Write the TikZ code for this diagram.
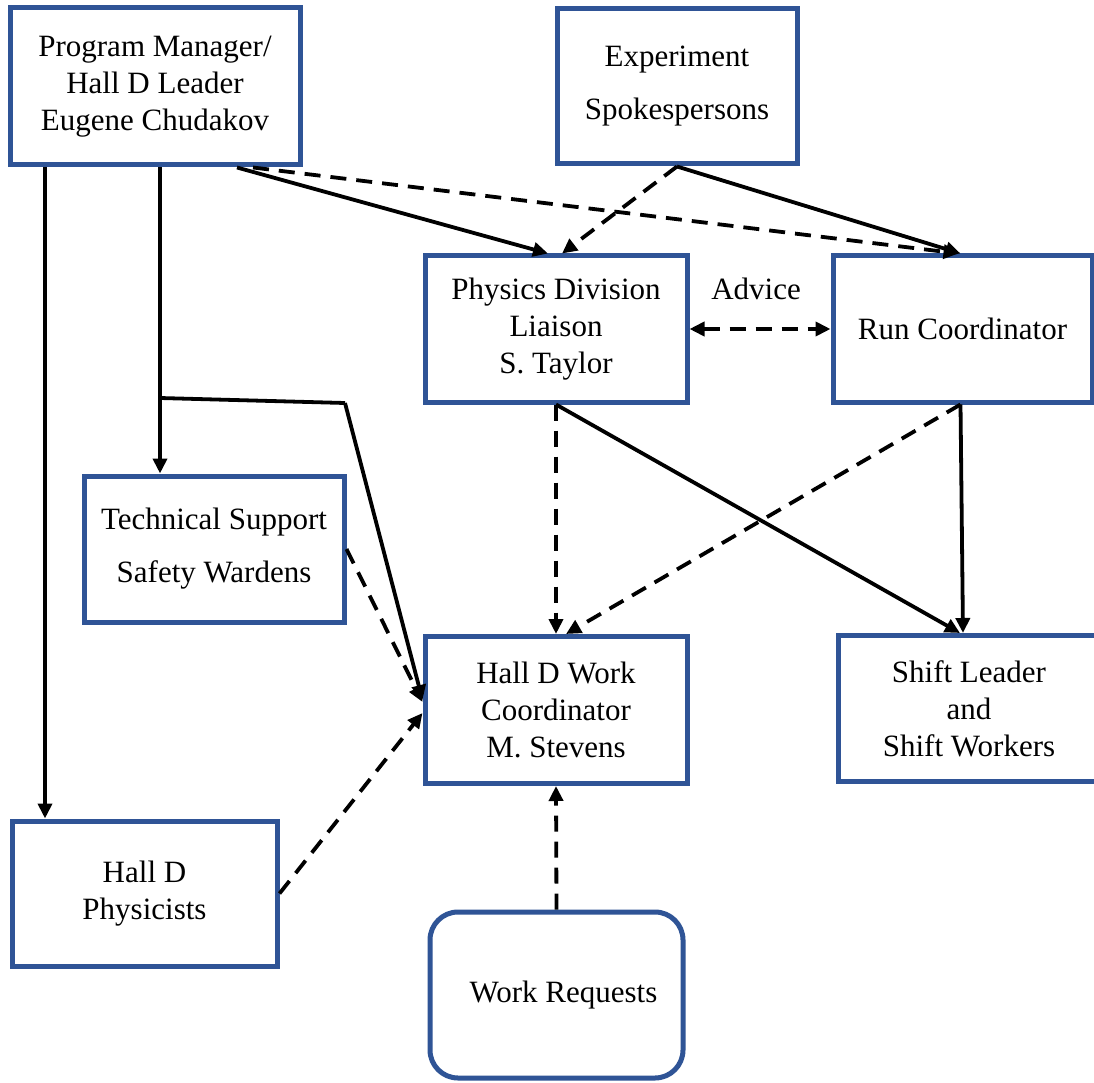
\documentclass[tikz,border=0pt]{standalone}
\usepackage{fontspec}
\setmainfont{Liberation Serif}
\newfontfamily\diagfont{Liberation Serif}
\usetikzlibrary{arrows.meta}
\definecolor{boxblue}{RGB}{47,84,150}
\begin{document}
\begin{tikzpicture}[x=1pt,y=-1pt,
  box/.style={draw=boxblue, line width=5pt, fill=white, inner sep=0pt, align=center,
    font=\diagfont\fontsize{31}{37}\selectfont},
  conn/.style={line width=3.8pt, draw=black},
  dsh/.style={conn, dash pattern=on 16pt off 10pt},
  tip/.style={-{Triangle[length=15pt,width=14pt]}},
  dtip/.style={{Triangle[length=15pt,width=14pt]}-{Triangle[length=15pt,width=14pt]}},
  lbl/.style={font=\diagfont\fontsize{31}{37}\selectfont, inner sep=0pt}]
\useasboundingbox (0,0) rectangle (1094,1083);
\fill[white] (0,0) rectangle (1094,1083);

% boxes
\node[box, minimum width=290pt, minimum height=157pt] (pm) at (155,86.5)
  {Program Manager/\\Hall D Leader\\Eugene Chudakov};
\node[box, minimum width=240pt, minimum height=155pt] (exp) at (677,86.5)
  {Experiment\\[16pt]Spokespersons};
\node[box, minimum width=262pt, minimum height=146pt] (phys) at (556,329)
  {Physics Division\\Liaison\\S. Taylor};
\node[box, minimum width=259pt, minimum height=146pt] (run) at (962.5,329)
  {Run Coordinator};
\node[box, minimum width=260pt, minimum height=146pt] (ts) at (214,549)
  {Technical Support\\[16pt]Safety Wardens};
\node[box, minimum width=262pt, minimum height=147pt] (hwc) at (556,710)
  {Hall D Work\\Coordinator\\M. Stevens};
\node[box, minimum width=262pt, minimum height=146pt] (shift) at (969,708.5)
  {Shift Leader\\and\\Shift Workers};
\node[box, minimum width=265pt, minimum height=145pt] (hdp) at (144.5,893.5)
  {Hall D\\Physicists};
\node[box, rounded corners=28pt, minimum width=253pt, minimum height=166pt] (wr) at (556.5,995)
  {\hspace*{14pt}Work Requests};

\node[lbl] (adv) at (756,289) {Advice};

% branch coordinates
\coordinate (br1) at (160,398);
\coordinate (br2) at (345,403);

% connectors from Program Manager
\draw[conn,tip] ([xshift=-110pt]pm.south) -- ([xshift=-110pt]pm.south |- hdp.north);
\draw[conn,tip] ([xshift=5pt]pm.south) -- ([xshift=5pt]pm.south |- ts.north);
\draw[conn] (br1) -- (br2);
\draw[conn,tip] (br2) -- ([yshift=10pt]hwc.west);
\draw[conn,tip] ([xshift=82pt]pm.south) -- ([xshift=-8pt]phys.north);
\draw[dsh,tip] ([xshift=98pt]pm.south) -- ([xshift=-4pt]run.north);

% from Experiment Spokespersons
\draw[dsh,tip] (exp.south) -- ([xshift=6pt]phys.north);
\draw[conn,tip] (exp.south) -- ([xshift=-2pt]run.north);

% Advice
\draw[dsh,dtip] (phys.east) -- (run.west);

% from Physics Division
\draw[dsh,tip] (phys.south) -- (hwc.north);
\draw[conn,tip] (phys.south) -- ([xshift=-9pt]shift.north);

% from Run Coordinator
\draw[dsh,tip] ([xshift=-2pt]run.south) -- ([xshift=10pt]hwc.north);
\draw[conn,tip] ([xshift=-2pt]run.south) -- ([xshift=-6pt]shift.north);

% into Work Coordinator
\draw[dsh,tip] (ts.east) -- ([yshift=8pt]hwc.west);
\draw[dsh,tip] (hdp.east) -- ([yshift=-3pt]hwc.west);
\draw[dsh,tip] (wr.north) -- (hwc.south);
\end{tikzpicture}
\end{document}
